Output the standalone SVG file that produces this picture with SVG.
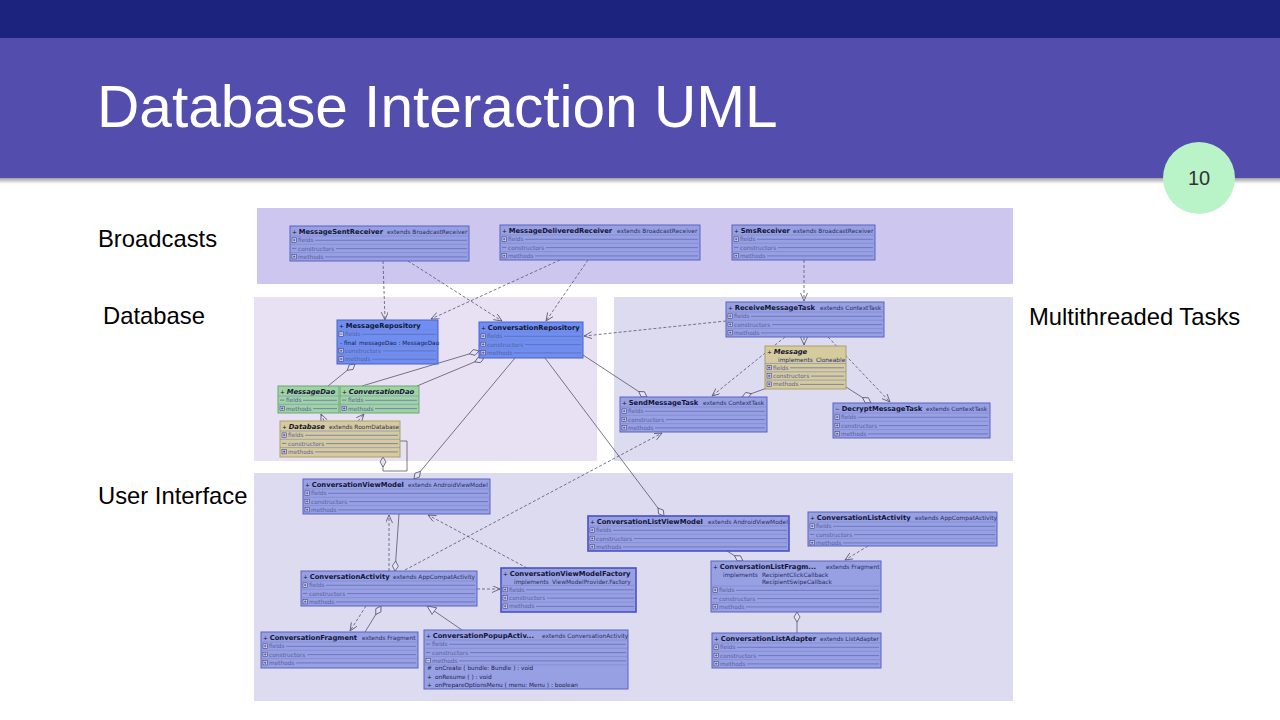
<svg xmlns="http://www.w3.org/2000/svg" xmlns:xlink="http://www.w3.org/1999/xlink" width="1280" height="720" viewBox="0 0 1280 720">
<style>
.title{font:58.6px "Liberation Sans",Arial,sans-serif;fill:#ffffff}
.lbl{font:23.8px "Liberation Sans",Arial,sans-serif;fill:#000000}
.cls{fill:#97a0e3;stroke:#5a63c2;stroke-width:1}
.sel{stroke:#4a50c8;stroke-width:1.6}
.repo{fill:#6e8ef0;stroke:#4861cf;stroke-width:1}
.dao{fill:#9fd3a4;stroke:#6aa872;stroke-width:1}
.tan{fill:#d5cb9c;stroke:#a99f70;stroke-width:1}
.nm{font:bold 6.8px "DejaVu Sans",sans-serif;fill:#141433}
.it{font-style:italic}
.pf{font-weight:normal;font-size:5.8px}
.ex{font:5.9px "DejaVu Sans",sans-serif;fill:#2c2e5e}
.rw{font:5.8px "DejaVu Sans",sans-serif;fill:#5a5f9c}
.mb{font:5.8px "DejaVu Sans",sans-serif;fill:#1c1d4c}
.sp{stroke:#7c83cc;stroke-width:0.6;fill:none}
.rl{stroke:#5e64b0;stroke-width:0.7;fill:none}
.con{fill:none;stroke:#55566e;stroke-width:0.8}
.dash{stroke-dasharray:3,2}
</style>
<defs>
<linearGradient id="shd" x1="0" y1="0" x2="0" y2="1"><stop offset="0" stop-color="#777" stop-opacity="0.7"/><stop offset="1" stop-color="#777" stop-opacity="0"/></linearGradient>
<g id="pl"><rect width="4.4" height="4.4" fill="#cdd1f4" stroke="#2c2f6a" stroke-width="0.5"/><path d="M0.9,2.2H3.5M2.2,0.9V3.5" stroke="#2c2f6a" stroke-width="0.6"/></g>
<g id="mi"><rect width="4.4" height="4.4" fill="#cdd1f4" stroke="#2c2f6a" stroke-width="0.5"/><path d="M0.9,2.2H3.5" stroke="#2c2f6a" stroke-width="0.6"/></g>
<g id="da"><path d="M0,2.2H4.4" stroke="#5a5f9c" stroke-width="0.7"/></g>
<marker id="oa" markerUnits="userSpaceOnUse" markerWidth="10" markerHeight="8" refX="8" refY="3.5" orient="auto"><path d="M0,0 L8,3.5 L0,7" fill="none" stroke="#55566e" stroke-width="0.8"/></marker>
<marker id="dm" markerUnits="userSpaceOnUse" markerWidth="12" markerHeight="8" refX="0.5" refY="3.5" orient="auto"><path d="M0.5,3.5 L5.5,0.5 L10.5,3.5 L5.5,6.5 Z" fill="#e4e2f3" stroke="#55566e" stroke-width="0.8"/></marker>
<marker id="tr" markerUnits="userSpaceOnUse" markerWidth="12" markerHeight="10" refX="9.5" refY="4.5" orient="auto"><path d="M0.5,0.5 L9.5,4.5 L0.5,8.5 Z" fill="#e4e2f3" stroke="#55566e" stroke-width="0.8"/></marker>
</defs>

<rect width="1280" height="720" fill="#ffffff"/>
<g id="header">
<rect x="0" y="0" width="1280" height="38" fill="#1c237e"/>
<rect x="0" y="38" width="1280" height="140" fill="#534dae"/>
<rect x="0" y="178" width="1280" height="6" fill="url(#shd)"/>
<text class="title" x="97" y="127">Database Interaction UML</text>
<circle cx="1199" cy="178" r="36" fill="#b9f4c9"/>
<text x="1199" y="185" text-anchor="middle" style="font:20px 'Liberation Sans',Arial,sans-serif;fill:#333">10</text>
</g>

<g id="panels">
<rect x="257" y="208" width="756" height="76" fill="#cdc6ef"/>
<rect x="254" y="297" width="343" height="164" fill="#e8e1f4"/>
<rect x="614" y="297" width="399" height="164" fill="#dcdbf0"/>
<rect x="254" y="473" width="759" height="228" fill="#dcdbf0"/>
</g>
<g id="labels">
<text class="lbl" x="98" y="247">Broadcasts</text>
<text class="lbl" x="103" y="324">Database</text>
<text class="lbl" x="1029" y="325">Multithreaded Tasks</text>
<text class="lbl" x="98" y="504">User Interface</text>
</g>

<g id="connectors">
<path class="con dash" marker-end="url(#oa)" d="M383,261 L385,320"/>
<path class="con dash" marker-end="url(#oa)" d="M408,261 L502,321"/>
<path class="con dash" marker-end="url(#oa)" d="M560,260 L431,319"/>
<path class="con dash" marker-end="url(#oa)" d="M588,260 L546,321"/>
<path class="con dash" marker-end="url(#oa)" d="M804,260 L804,301"/>
<path class="con dash" marker-end="url(#oa)" d="M726,321 L584,336"/>
<path class="con dash" marker-end="url(#oa)" d="M804,337 L804,345"/>
<path class="con dash" marker-end="url(#oa)" d="M785,337 L712,396"/>
<path class="con dash" marker-end="url(#oa)" d="M828,337 L890,402"/>
<path class="con dash" marker-end="url(#oa)" d="M324,421 L321,414"/>
<path class="con dash" marker-end="url(#oa)" d="M358,421 L364,414"/>
<path class="con dash" marker-end="url(#oa)" d="M405,570 L662,433"/>
<path class="con dash" marker-end="url(#oa)" d="M389,571 L389,515"/>
<path class="con dash" marker-end="url(#oa)" d="M527,568 L428,515"/>
<path class="con dash" marker-end="url(#oa)" d="M477,589 L500,589"/>
<path class="con dash" marker-end="url(#oa)" d="M366,606 L350,631"/>
<path class="con dash" marker-end="url(#oa)" d="M868,546 L845,560"/>
<path class="con" marker-start="url(#dm)" d="M355,364 L328,386"/>
<path class="con" marker-start="url(#dm)" d="M479,351 L362,386"/>
<path class="con" marker-start="url(#dm)" d="M484,358 L417,386"/>
<path class="con" marker-start="url(#dm)" d="M647,397 L583,355"/>
<path class="con" marker-start="url(#dm)" d="M742,397 L767,388"/>
<path class="con" marker-start="url(#dm)" d="M871,403 L846,387"/>
<path class="con" marker-start="url(#dm)" d="M414,479 L515,358"/>
<path class="con" marker-start="url(#dm)" d="M664,516 L545,358"/>
<path class="con" marker-start="url(#dm)" d="M395,571 L399,514"/>
<path class="con" marker-start="url(#dm)" d="M743,561 L727,551"/>
<path class="con" marker-start="url(#dm)" d="M381,606 L365,632"/>
<path class="con" marker-start="url(#dm)" d="M797,612 L797,633"/>
<path class="con" marker-start="url(#dm)" d="M383,457 L383,471 L407,471 L407,441 L400,441"/>
<path class="con" marker-end="url(#tr)" d="M462,630 L427,606"/>
</g>

<g id="MessageSentReceiver" transform="translate(290,226)">
<rect class="cls" width="179" height="35"/>
<text class="nm" x="2" y="8"><tspan class="pf">+ </tspan>MessageSentReceiver</text>
<text class="ex" x="97" y="8">extends BroadcastReceiver</text>
<path class="sp" d="M0,10H179M0,18.3H179M0,26.6H179"/>
<use href="#pl" x="2" y="11.9"/><text class="rw" x="8" y="16.3">fields</text>
<use href="#da" x="2" y="20.2"/><text class="rw" x="8" y="24.6">constructors</text>
<use href="#pl" x="2" y="28.5"/><text class="rw" x="8" y="32.9">methods</text>
<path class="rl" d="M25,14.3H177M46,22.6H177M35,30.9H177"/>
</g>

<g id="MessageDeliveredReceiver" transform="translate(500,225)">
<rect class="cls" width="200" height="35"/>
<text class="nm" x="2" y="8"><tspan class="pf">+ </tspan>MessageDeliveredReceiver</text>
<text class="ex" x="117" y="8">extends BroadcastReceiver</text>
<path class="sp" d="M0,10H200M0,18.3H200M0,26.6H200"/>
<use href="#pl" x="2" y="11.9"/><text class="rw" x="8" y="16.3">fields</text>
<use href="#da" x="2" y="20.2"/><text class="rw" x="8" y="24.6">constructors</text>
<use href="#pl" x="2" y="28.5"/><text class="rw" x="8" y="32.9">methods</text>
<path class="rl" d="M25,14.3H198M46,22.6H198M35,30.9H198"/>
</g>

<g id="SmsReceiver" transform="translate(732,225)">
<rect class="cls" width="143" height="35"/>
<text class="nm" x="2" y="8"><tspan class="pf">+ </tspan>SmsReceiver</text>
<text class="ex" x="61" y="8">extends BroadcastReceiver</text>
<path class="sp" d="M0,10H143M0,18.3H143M0,26.6H143"/>
<use href="#pl" x="2" y="11.9"/><text class="rw" x="8" y="16.3">fields</text>
<use href="#da" x="2" y="20.2"/><text class="rw" x="8" y="24.6">constructors</text>
<use href="#pl" x="2" y="28.5"/><text class="rw" x="8" y="32.9">methods</text>
<path class="rl" d="M25,14.3H141M46,22.6H141M35,30.9H141"/>
</g>

<g id="MessageRepository" transform="translate(337,320)">
<rect class="repo" width="101" height="44"/>
<text class="nm" x="2" y="8"><tspan class="pf">+ </tspan>MessageRepository</text>
<path class="sp" d="M0,10H101M0,26.6H101M0,35H101"/>
<use href="#mi" x="2" y="11.9"/><text class="rw" x="8" y="16.3">fields</text>
<text class="mb" x="3" y="24.6">- final</text><text class="mb" x="22" y="24.6">messageDao : MessageDao</text>
<use href="#pl" x="2" y="28.5"/><text class="rw" x="8" y="32.9">constructors</text>
<use href="#pl" x="2" y="36.8"/><text class="rw" x="8" y="41.2">methods</text>
<path class="rl" d="M25,14.3H99M46,30.9H99M35,39.2H99"/>
</g>

<g id="ConversationRepository" transform="translate(479,322)">
<rect class="repo" width="104" height="36"/>
<text class="nm" x="2" y="8"><tspan class="pf">+ </tspan>ConversationRepository</text>
<path class="sp" d="M0,10H104M0,18.3H104M0,26.6H104"/>
<use href="#pl" x="2" y="11.9"/><text class="rw" x="8" y="16.3">fields</text>
<use href="#pl" x="2" y="20.2"/><text class="rw" x="8" y="24.6">constructors</text>
<use href="#pl" x="2" y="28.5"/><text class="rw" x="8" y="32.9">methods</text>
<path class="rl" d="M25,14.3H102M46,22.6H102M35,30.9H102"/>
</g>

<g id="MessageDao" transform="translate(278,386)">
<rect class="dao" width="61" height="27"/>
<text class="nm it" x="2" y="8"><tspan class="pf">+ </tspan>MessageDao</text>
<path class="sp" d="M0,10H61M0,18.3H61"/>
<use href="#da" x="2" y="11.9"/><text class="rw" x="8" y="16.3">fields</text>
<use href="#pl" x="2" y="20.2"/><text class="rw" x="8" y="24.6">methods</text>
<path class="rl" d="M25,14.3H59M35,22.6H59"/>
</g>

<g id="ConversationDao" transform="translate(340,386)">
<rect class="dao" width="79" height="27"/>
<text class="nm it" x="2" y="8"><tspan class="pf">+ </tspan>ConversationDao</text>
<path class="sp" d="M0,10H79M0,18.3H79"/>
<use href="#da" x="2" y="11.9"/><text class="rw" x="8" y="16.3">fields</text>
<use href="#pl" x="2" y="20.2"/><text class="rw" x="8" y="24.6">methods</text>
<path class="rl" d="M25,14.3H77M35,22.6H77"/>
</g>

<g id="Database" transform="translate(280,421)">
<rect class="tan" width="120" height="36"/>
<text class="nm it" x="2" y="8"><tspan class="pf">+ </tspan>Database</text>
<text class="ex it" x="49" y="8">extends RoomDatabase</text>
<path class="sp" d="M0,10H120M0,18.3H120M0,26.6H120"/>
<use href="#pl" x="2" y="11.9"/><text class="rw" x="8" y="16.3">fields</text>
<use href="#da" x="2" y="20.2"/><text class="rw" x="8" y="24.6">constructors</text>
<use href="#pl" x="2" y="28.5"/><text class="rw" x="8" y="32.9">methods</text>
<path class="rl" d="M25,14.3H118M46,22.6H118M35,30.9H118"/>
</g>

<g id="ReceiveMessageTask" transform="translate(726,302)">
<rect class="cls" width="158" height="35"/>
<text class="nm" x="2" y="8"><tspan class="pf">+ </tspan>ReceiveMessageTask</text>
<text class="ex" x="94" y="8">extends ContextTask</text>
<path class="sp" d="M0,10H158M0,18.3H158M0,26.6H158"/>
<use href="#pl" x="2" y="11.9"/><text class="rw" x="8" y="16.3">fields</text>
<use href="#pl" x="2" y="20.2"/><text class="rw" x="8" y="24.6">constructors</text>
<use href="#pl" x="2" y="28.5"/><text class="rw" x="8" y="32.9">methods</text>
<path class="rl" d="M25,14.3H156M46,22.6H156M35,30.9H156"/>
</g>

<g id="Message" transform="translate(765,346)">
<rect class="tan" width="81" height="43"/>
<text class="nm it" x="2" y="8"><tspan class="pf">+ </tspan>Message</text>
<text class="ex it" x="13" y="15.5">implements</text><text class="ex it" x="51" y="15.5">Cloneable</text>
<path class="sp" d="M0,17.5H81M0,25.8H81M0,34.1H81"/>
<use href="#pl" x="2" y="19.4"/><text class="rw" x="8" y="23.8">fields</text>
<use href="#pl" x="2" y="27.7"/><text class="rw" x="8" y="32.1">constructors</text>
<use href="#pl" x="2" y="36"/><text class="rw" x="8" y="40.4">methods</text>
<path class="rl" d="M25,21.8H79M46,30.1H79M35,38.4H79"/>
</g>

<g id="SendMessageTask" transform="translate(620,397)">
<rect class="cls" width="147" height="35"/>
<text class="nm" x="2" y="8"><tspan class="pf">+ </tspan>SendMessageTask</text>
<text class="ex" x="83" y="8">extends ContextTask</text>
<path class="sp" d="M0,10H147M0,18.3H147M0,26.6H147"/>
<use href="#pl" x="2" y="11.9"/><text class="rw" x="8" y="16.3">fields</text>
<use href="#pl" x="2" y="20.2"/><text class="rw" x="8" y="24.6">constructors</text>
<use href="#pl" x="2" y="28.5"/><text class="rw" x="8" y="32.9">methods</text>
<path class="rl" d="M25,14.3H145M46,22.6H145M35,30.9H145"/>
</g>

<g id="DecryptMessageTask" transform="translate(833,403)">
<rect class="cls" width="157" height="35"/>
<text class="nm" x="2" y="8"><tspan class="pf">~ </tspan>DecryptMessageTask</text>
<text class="ex" x="93" y="8">extends ContextTask</text>
<path class="sp" d="M0,10H157M0,18.3H157M0,26.6H157"/>
<use href="#pl" x="2" y="11.9"/><text class="rw" x="8" y="16.3">fields</text>
<use href="#pl" x="2" y="20.2"/><text class="rw" x="8" y="24.6">constructors</text>
<use href="#pl" x="2" y="28.5"/><text class="rw" x="8" y="32.9">methods</text>
<path class="rl" d="M25,14.3H155M46,22.6H155M35,30.9H155"/>
</g>

<g id="ConversationViewModel" transform="translate(303,479)">
<rect class="cls" width="187" height="35"/>
<text class="nm" x="2" y="8"><tspan class="pf">+ </tspan>ConversationViewModel</text>
<text class="ex" x="105" y="8">extends AndroidViewModel</text>
<path class="sp" d="M0,10H187M0,18.3H187M0,26.6H187"/>
<use href="#pl" x="2" y="11.9"/><text class="rw" x="8" y="16.3">fields</text>
<use href="#pl" x="2" y="20.2"/><text class="rw" x="8" y="24.6">constructors</text>
<use href="#pl" x="2" y="28.5"/><text class="rw" x="8" y="32.9">methods</text>
<path class="rl" d="M25,14.3H185M46,22.6H185M35,30.9H185"/>
</g>

<g id="ConversationListViewModel" transform="translate(588,516)">
<rect class="cls sel" width="201" height="35"/>
<text class="nm" x="2" y="8"><tspan class="pf">+ </tspan>ConversationListViewModel</text>
<text class="ex" x="120" y="8">extends AndroidViewModel</text>
<path class="sp" d="M0,10H201M0,18.3H201M0,26.6H201"/>
<use href="#pl" x="2" y="11.9"/><text class="rw" x="8" y="16.3">fields</text>
<use href="#pl" x="2" y="20.2"/><text class="rw" x="8" y="24.6">constructors</text>
<use href="#pl" x="2" y="28.5"/><text class="rw" x="8" y="32.9">methods</text>
<path class="rl" d="M25,14.3H199M46,22.6H199M35,30.9H199"/>
</g>

<g id="ConversationListActivity" transform="translate(808,512)">
<rect class="cls" width="189" height="34"/>
<text class="nm" x="2" y="8"><tspan class="pf">+ </tspan>ConversationListActivity</text>
<text class="ex" x="107" y="8">extends AppCompatActivity</text>
<path class="sp" d="M0,10H189M0,18.3H189M0,26.6H189"/>
<use href="#pl" x="2" y="11.9"/><text class="rw" x="8" y="16.3">fields</text>
<use href="#da" x="2" y="20.2"/><text class="rw" x="8" y="24.6">constructors</text>
<use href="#pl" x="2" y="28.5"/><text class="rw" x="8" y="32.9">methods</text>
<path class="rl" d="M25,14.3H187M46,22.6H187M35,30.9H187"/>
</g>

<g id="ConversationActivity" transform="translate(301,571)">
<rect class="cls" width="176" height="35"/>
<text class="nm" x="2" y="8"><tspan class="pf">+ </tspan>ConversationActivity</text>
<text class="ex" x="92" y="8">extends AppCompatActivity</text>
<path class="sp" d="M0,10H176M0,18.3H176M0,26.6H176"/>
<use href="#pl" x="2" y="11.9"/><text class="rw" x="8" y="16.3">fields</text>
<use href="#da" x="2" y="20.2"/><text class="rw" x="8" y="24.6">constructors</text>
<use href="#pl" x="2" y="28.5"/><text class="rw" x="8" y="32.9">methods</text>
<path class="rl" d="M25,14.3H174M46,22.6H174M35,30.9H174"/>
</g>

<g id="ConversationViewModelFactory" transform="translate(501,568)">
<rect class="cls sel" width="135" height="44"/>
<text class="nm" x="2" y="8"><tspan class="pf">+ </tspan>ConversationViewModelFactory</text>
<text class="ex" x="13" y="15.5">implements</text><text class="ex" x="51" y="15.5">ViewModelProvider.Factory</text>
<path class="sp" d="M0,17.5H135M0,25.8H135M0,34.1H135"/>
<use href="#pl" x="2" y="19.4"/><text class="rw" x="8" y="23.8">fields</text>
<use href="#pl" x="2" y="27.7"/><text class="rw" x="8" y="32.1">constructors</text>
<use href="#pl" x="2" y="36"/><text class="rw" x="8" y="40.4">methods</text>
<path class="rl" d="M25,21.8H133M46,30.1H133M35,38.4H133"/>
</g>

<g id="ConversationListFragment" transform="translate(711,561)">
<rect class="cls" width="170" height="51"/>
<text class="nm" x="2" y="8"><tspan class="pf">+ </tspan>ConversationListFragm...</text>
<text class="ex" x="115" y="8">extends Fragment</text>
<text class="ex" x="12" y="15.5">implements</text><text class="ex" x="51" y="15.5">RecipientClickCallback</text>
<text class="ex" x="51" y="23">RecipientSwipeCallback</text>
<path class="sp" d="M0,25H170M0,33.3H170M0,41.6H170"/>
<use href="#pl" x="2" y="26.9"/><text class="rw" x="8" y="31.3">fields</text>
<use href="#da" x="2" y="35.2"/><text class="rw" x="8" y="39.6">constructors</text>
<use href="#pl" x="2" y="43.5"/><text class="rw" x="8" y="47.9">methods</text>
<path class="rl" d="M25,29.3H168M46,37.6H168M35,45.9H168"/>
</g>

<g id="ConversationFragment" transform="translate(261,632)">
<rect class="cls" width="157" height="36"/>
<text class="nm" x="2" y="8"><tspan class="pf">+ </tspan>ConversationFragment</text>
<text class="ex" x="101" y="8">extends Fragment</text>
<path class="sp" d="M0,10H157M0,18.3H157M0,26.6H157"/>
<use href="#pl" x="2" y="11.9"/><text class="rw" x="8" y="16.3">fields</text>
<use href="#pl" x="2" y="20.2"/><text class="rw" x="8" y="24.6">constructors</text>
<use href="#pl" x="2" y="28.5"/><text class="rw" x="8" y="32.9">methods</text>
<path class="rl" d="M25,14.3H155M46,22.6H155M35,30.9H155"/>
</g>

<g id="ConversationPopupActivity" transform="translate(424,630)">
<rect class="cls" width="204" height="59"/>
<text class="nm" x="2" y="8"><tspan class="pf">+ </tspan>ConversationPopupActiv...</text>
<text class="ex" x="118" y="8">extends ConversationActivity</text>
<path class="sp" d="M0,10H204M0,18.3H204M0,26.6H204M0,34.9H204"/>
<use href="#da" x="2" y="11.9"/><text class="rw" x="8" y="16.3">fields</text>
<use href="#da" x="2" y="20.2"/><text class="rw" x="8" y="24.6">constructors</text>
<use href="#mi" x="2" y="28.5"/><text class="rw" x="8" y="32.9">methods</text>
<path class="rl" d="M25,14.3H202M46,22.6H202M35,30.9H202"/>
<text class="mb" x="3" y="40.4">#</text><text class="mb" x="11" y="40.4">onCreate ( bundle: Bundle ) : void</text>
<text class="mb" x="3" y="48.6">+</text><text class="mb" x="11" y="48.6">onResume ( ) : void</text>
<text class="mb" x="3" y="56.8">+</text><text class="mb" x="11" y="56.8">onPrepareOptionsMenu ( menu: Menu ) : boolean</text>
</g>

<g id="ConversationListAdapter" transform="translate(712,633)">
<rect class="cls" width="169" height="35"/>
<text class="nm" x="2" y="8"><tspan class="pf">+ </tspan>ConversationListAdapter</text>
<text class="ex" x="108" y="8">extends ListAdapter</text>
<path class="sp" d="M0,10H169M0,18.3H169M0,26.6H169"/>
<use href="#pl" x="2" y="11.9"/><text class="rw" x="8" y="16.3">fields</text>
<use href="#pl" x="2" y="20.2"/><text class="rw" x="8" y="24.6">constructors</text>
<use href="#pl" x="2" y="28.5"/><text class="rw" x="8" y="32.9">methods</text>
<path class="rl" d="M25,14.3H167M46,22.6H167M35,30.9H167"/>
</g>
</svg>
